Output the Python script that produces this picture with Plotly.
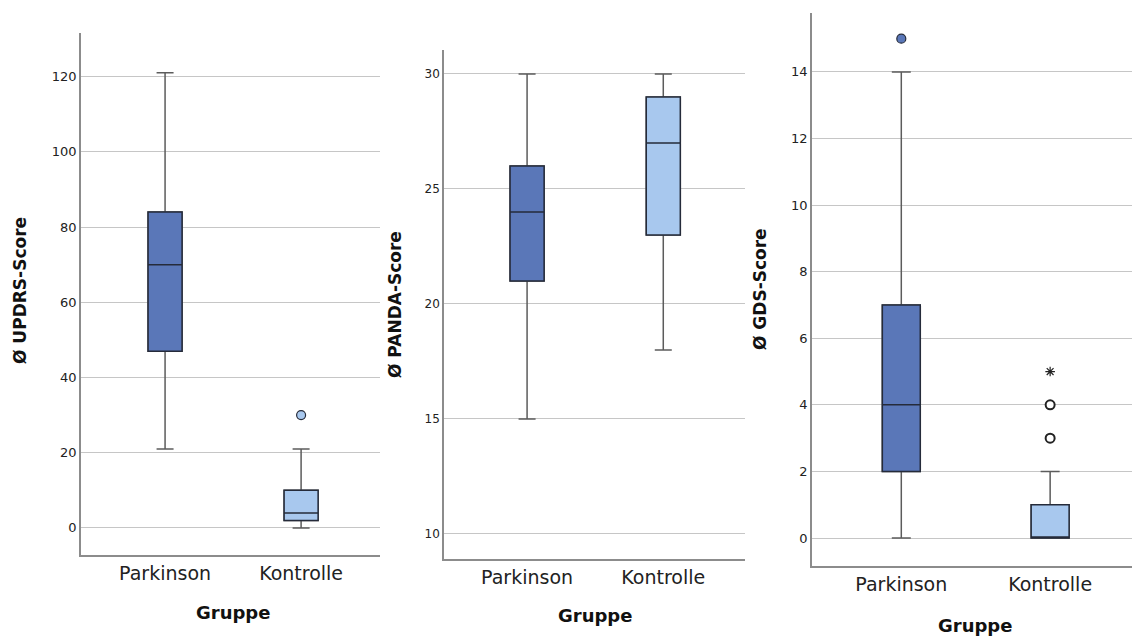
import plotly.graph_objects as go

categories = ["Parkinson", "Kontrolle"]

# UPDRS
updrs_low = [21, 0]
updrs_q1 = [47, 2]
updrs_med = [70, 4]
updrs_q3 = [84, 10]
updrs_high = [121, 21]
updrs_out_k = [30]

# PANDA
panda_low = [15, 18]
panda_q1 = [21, 23]
panda_med = [24, 27]
panda_q3 = [26, 29]
panda_high = [30, 30]

# GDS
gds_low = [0, 0]
gds_q1 = [2, 0]
gds_med = [4, 0]
gds_q3 = [7, 1]
gds_high = [14, 2]
gds_out_p = [15]
gds_out_k_circle = [3, 4]
gds_out_k_star = [5]

y_titles = ["Ø UPDRS-Score", "Ø PANDA-Score", "Ø GDS-Score"]
x_title = "Gruppe"

DARK = "#5a77b8"
LIGHT = "#a8c8ee"
fills = [DARK, LIGHT]
EDGE = "#252b3a"
WHISK = "#5c5c5c"

W, H = 1132, 637

fig = go.Figure()

def px_x(p):
    return p / W

def px_y(p):
    return 1 - p / H

panels = [
    dict(ax="", low=updrs_low, q1=updrs_q1, med=updrs_med, q3=updrs_q3, high=updrs_high,
         xd=[81, 380], yd=[33, 555], xr=[-0.618, 1.58], yr=[-7.2, 131.6], dtick=20, bw=0.25,
         ytp=(20, 291), xtp=(233, 612), tfs=13),
    dict(ax="2", low=panda_low, q1=panda_q1, med=panda_med, q3=panda_q3, high=panda_high,
         xd=[444, 745], yd=[50, 559], xr=[-0.61, 1.60], yr=[8.91, 31.04], dtick=5, bw=0.25,
         ytp=(395, 305), xtp=(595, 615), tfs=12),
    dict(ax="3", low=gds_low, q1=gds_q1, med=gds_med, q3=gds_q3, high=gds_high,
         xd=[812, 1132], yd=[13, 566], xr=[-0.60, 1.55], yr=[-0.84, 15.77], dtick=2, bw=0.255,
         ytp=(760, 289), xtp=(975, 625), tfs=13),
]

layout_axes = {}
annotations = []
for i, p in enumerate(panels):
    xa = "x" + p["ax"]
    ya = "y" + p["ax"]
    for j in range(2):
        # whiskers (gray)
        fig.add_trace(go.Box(
            x=[j], q1=[p["q1"][j]], median=[p["med"][j]], q3=[p["q3"][j]],
            lowerfence=[p["low"][j]], upperfence=[p["high"][j]],
            width=p["bw"], whiskerwidth=0.5, fillcolor=fills[j],
            line=dict(color=WHISK, width=1.5), boxpoints=False,
            showlegend=False, xaxis=xa, yaxis=ya, hoverinfo="skip"))
        # box body with dark outline
        fig.add_trace(go.Box(
            x=[j], q1=[p["q1"][j]], median=[p["med"][j]], q3=[p["q3"][j]],
            lowerfence=[p["q1"][j]], upperfence=[p["q3"][j]],
            width=p["bw"], whiskerwidth=0.5, fillcolor=fills[j],
            line=dict(color=EDGE, width=1.5), boxpoints=False,
            showlegend=False, xaxis=xa, yaxis=ya, hoverinfo="skip"))
    xkey = "xaxis" + p["ax"]
    ykey = "yaxis" + p["ax"]
    layout_axes[xkey] = dict(
        domain=[px_x(p["xd"][0]), px_x(p["xd"][1])], range=p["xr"], anchor=ya,
        tickvals=[0, 1], ticktext=categories, showgrid=False, zeroline=False,
        showline=True, linecolor="#8c8c8c", linewidth=1.5, ticks="",
        tickfont=dict(size=19, color="#222"), fixedrange=True)
    layout_axes[ykey] = dict(
        domain=[px_y(p["yd"][1]), px_y(p["yd"][0])], range=p["yr"], anchor=xa,
        dtick=p["dtick"], tick0=0, showgrid=True, gridcolor="#c6c6c6", gridwidth=1.2,
        zeroline=False, showline=True, linecolor="#8c8c8c", linewidth=1.5, ticks="",
        tickfont=dict(size=p["tfs"], color="#222"), fixedrange=True)
    annotations.append(dict(x=px_x(p["ytp"][0]), y=px_y(p["ytp"][1]), xref="paper", yref="paper",
                            text="<b>" + y_titles[i] + "</b>", textangle=-90, showarrow=False,
                            font=dict(size=17, color="#111"), xanchor="center", yanchor="middle"))
    annotations.append(dict(x=px_x(p["xtp"][0]), y=px_y(p["xtp"][1]), xref="paper", yref="paper",
                            text="<b>" + x_title + "</b>", showarrow=False,
                            font=dict(size=18, color="#111"), xanchor="center", yanchor="middle"))

# outliers
fig.add_trace(go.Scatter(x=[1] * len(updrs_out_k), y=updrs_out_k, mode="markers",
                         marker=dict(size=9, color=LIGHT, line=dict(color=EDGE, width=1.2)),
                         showlegend=False, xaxis="x", yaxis="y", hoverinfo="skip"))
fig.add_trace(go.Scatter(x=[0] * len(gds_out_p), y=gds_out_p, mode="markers",
                         marker=dict(size=9, color=DARK, line=dict(color=EDGE, width=1.2)),
                         showlegend=False, xaxis="x3", yaxis="y3", hoverinfo="skip"))
fig.add_trace(go.Scatter(x=[1] * len(gds_out_k_circle), y=gds_out_k_circle, mode="markers",
                         marker=dict(size=9, color="white", line=dict(color="#222", width=2)),
                         showlegend=False, xaxis="x3", yaxis="y3", hoverinfo="skip"))
fig.add_trace(go.Scatter(x=[1] * len(gds_out_k_star), y=gds_out_k_star, mode="markers",
                         marker=dict(size=8, symbol="asterisk-open", color="#222",
                                     line=dict(color="#222", width=1.2)),
                         showlegend=False, xaxis="x3", yaxis="y3", hoverinfo="skip"))

fig.update_layout(
    width=W, height=H, margin=dict(l=0, r=0, t=0, b=0),
    paper_bgcolor="white", plot_bgcolor="white",
    font=dict(family="DejaVu Sans", color="#222"),
    annotations=annotations, showlegend=False,
    **layout_axes)

fig.write_html("out.html", config={"displayModeBar": False},
               post_script="document.body.style.margin='0';document.body.style.overflow='hidden';")
